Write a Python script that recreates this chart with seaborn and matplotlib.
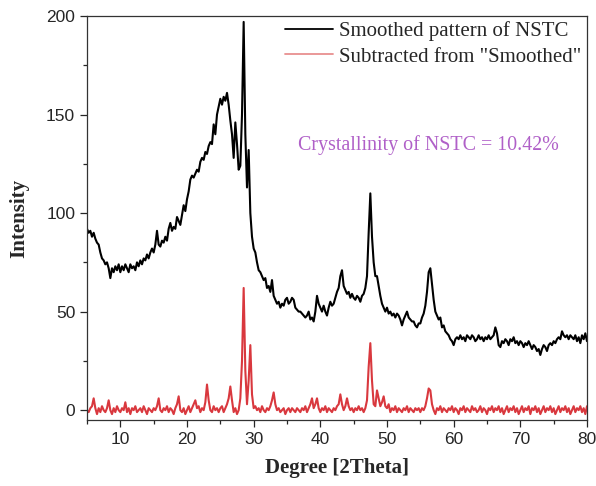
import numpy as np
import pandas as pd
import matplotlib
matplotlib.use("Agg")
import matplotlib.pyplot as plt
from matplotlib.ticker import MultipleLocator
from matplotlib.lines import Line2D
import seaborn as sns

# ---- data (2Theta step 0.25 deg, starting at 5 deg) ----
start_deg = 5.0
step_deg = 0.25

smoothed = [
    92, 90, 91, 88,   # 5
    90, 87, 85, 84,   # 6
    80, 77, 76, 74,   # 7
    75, 72, 67, 72,   # 8
    70, 73, 71, 74,   # 9
    70, 73, 71, 74,   # 10
    72, 70, 74, 72,   # 11
    73, 71, 75, 73,   # 12
    76, 74, 77, 76,   # 13
    79, 77, 80, 82,   # 14
    80, 84, 91, 84,   # 15
    83, 86, 85, 88,   # 16
    86, 92, 95, 91,   # 17
    93, 92, 98, 96,   # 18
    94, 99, 104, 101, # 19
    107, 111, 117, 119,  # 20
    118, 120, 122, 121,  # 21
    126, 128, 127, 131,  # 22
    130, 134, 136, 135,  # 23
    145, 140, 150, 154,  # 24
    158, 155, 159, 157,  # 25
    161, 155, 147, 140,  # 26
    128, 146, 135, 122,  # 27
    124, 150, 197, 140,  # 28
    113, 132, 100, 88,   # 29
    82, 80, 75, 71,   # 30
    70, 68, 66, 67,   # 31
    62, 63, 60, 66,   # 32
    58, 56, 54, 55,   # 33
    52, 54, 53, 56,   # 34
    57, 54, 55, 57,   # 35
    56, 52, 51, 50,   # 36
    50, 49, 48, 47,   # 37
    48, 50, 46, 47,   # 38
    45, 50, 58, 54,   # 39
    52, 50, 53, 50,   # 40
    48, 52, 55, 53,   # 41
    54, 57, 60, 62,   # 42
    68, 71, 63, 61,   # 43
    59, 60, 57, 59,   # 44
    57, 56, 58, 57,   # 45
    55, 58, 59, 62,   # 46
    68, 90, 110, 88,  # 47
    75, 68, 68, 63,   # 48
    58, 54, 52, 50,   # 49
    52, 49, 50, 48,   # 50
    49, 47, 49, 48,   # 51
    46, 43, 46, 48,   # 52
    50, 47, 46, 45,   # 53
    45, 43, 42, 44,   # 54
    44, 47, 49, 53,   # 55
    60, 70, 72, 64,   # 56
    56, 50, 48, 46,   # 57
    47, 42, 43, 40,   # 58
    39, 38, 36, 35,   # 59
    33, 36, 37, 36,   # 60
    38, 36, 37, 35,   # 61
    38, 37, 36, 38,   # 62
    37, 35, 36, 38,   # 63
    36, 37, 35, 37,   # 64
    36, 38, 36, 37,   # 65
    38, 42, 39, 33,   # 66
    32, 35, 34, 36,   # 67
    35, 33, 36, 35,   # 68
    37, 34, 35, 33,   # 69
    35, 34, 32, 34,   # 70
    33, 35, 33, 31,   # 71
    33, 32, 30, 31,   # 72
    28, 31, 33, 32,   # 73
    30, 33, 34, 33,   # 74
    35, 34, 36, 37,   # 75
    36, 40, 38, 37,   # 76
    38, 36, 38, 37,   # 77
    36, 38, 35, 37,   # 78
    34, 38, 36, 39,   # 79
    35,               # 80
]

subtracted = [
    0, -1, 1, 2,      # 5
    6, 1, -2, 1,      # 6
    -1, 2, 0, -1,     # 7
    1, 5, 0, -2,      # 8
    1, -1, 2, 0,      # 9
    -1, 1, 0, 4,      # 10
    -1, 1, -2, 1,     # 11
    0, 2, -1, 0,      # 12
    1, -1, 2, 0,      # 13
    -2, 1, 0, -1,     # 14
    1, 0, 2, 6,       # 15
    0, -1, 1, 0,      # 16
    2, -1, 1, 0,      # 17
    -2, 1, 3, 7,      # 18
    0, -1, 1, -2,     # 19
    0, 2, -1, 1,      # 20
    3, 5, 1, 2,       # 21
    -1, 1, 0, 4,      # 22
    13, 5, 0, -1,     # 23
    2, 0, 1, -1,      # 24
    1, 2, -1, 1,      # 25
    3, 6, 12, 5,      # 26
    -1, 1, -2, 0,     # 27
    6, 25, 62, 20,    # 28
    3, 15, 33, 8,     # 29
    1, 2, 0, 1,       # 30
    -1, 2, 0, -1,     # 31
    1, 0, 2, 5,       # 32
    9, 3, 0, 1,       # 33
    -1, 0, 1, -2,     # 34
    0, 1, -1, 1,      # 35
    0, -1, 1, 0,      # 36
    -1, 1, 0, 2,      # 37
    -1, 1, 3, 6,      # 38
    1, 3, 6, 1,       # 39
    -1, 1, 0, 2,      # 40
    -1, 1, 0, -1,     # 41
    1, 0, 2, 3,       # 42
    8, 3, 0, 2,       # 43
    6, 2, 0, 1,       # 44
    -1, 1, 0, 2,      # 45
    0, 1, -1, 1,      # 46
    5, 22, 34, 15,    # 47
    3, 2, 10, 6,      # 48
    2, 4, 7, 2,       # 49
    1, 3, -1, 1,      # 50
    0, 2, -1, 1,      # 51
    0, -1, 1, 0,      # 52
    2, -1, 1, 0,      # 53
    -1, 1, 0, 1,      # 54
    -1, 1, 0, 2,      # 55
    6, 11, 10, 3,     # 56
    0, -2, 1, 0,      # 57
    2, -1, 1, 0,      # 58
    -1, 1, 0, 2,      # 59
    -1, 1, 0, -2,     # 60
    1, 0, 2, -1,      # 61
    1, 0, -1, 2,      # 62
    0, 1, -1, 0,      # 63
    2, -1, 1, 0,      # 64
    -2, 1, 0, 2,      # 65
    -1, 1, 0, 2,      # 66
    -1, 1, -2, 0,     # 67
    2, -1, 1, 0,      # 68
    2, -1, 1, -2,     # 69
    0, 2, -1, 1,      # 70
    0, 2, -2, 1,      # 71
    0, 2, -1, 1,      # 72
    -2, 0, 2, -1,     # 73
    1, 0, 2, -1,      # 74
    1, -2, 0, 2,      # 75
    -1, 1, 0, 2,      # 76
    -1, 1, -2, 0,     # 77
    2, -1, 1, 0,      # 78
    2, -1, 1, -2,     # 79
    2,                # 80
]

series_names = ["Smoothed pattern of NSTC", 'Subtracted from "Smoothed"']
series_colors = ["#000000", "#d9383e"]
legend_colors = ["#000000", "#e89090"]
x_ticks = [10, 20, 30, 40, 50, 60, 70, 80]
y_ticks = [0, 50, 100, 150, 200]
annotation = "Crystallinity of NSTC = 10.42%"

deg1 = start_deg + step_deg * np.arange(len(smoothed))
deg2 = start_deg + step_deg * np.arange(len(subtracted))
df = pd.concat([
    pd.DataFrame({"deg": deg1, "I": smoothed, "s": series_names[0]}),
    pd.DataFrame({"deg": deg2, "I": subtracted, "s": series_names[1]}),
])

# ---- style ----
sns.set_style("ticks")
plt.rcParams["font.family"] = ["Liberation Sans", "DejaVu Sans"]

W, H = 596, 486
fig = plt.figure(figsize=(W / 100, H / 100), dpi=100)
ax = fig.add_axes([87 / W, 1 - 420 / H, 500 / W, 404 / H])

sns.lineplot(data=df, x="deg", y="I", hue="s", palette=series_colors,
             hue_order=series_names, ax=ax, linewidth=1.5, legend=False,
             estimator=None, sort=False)

ax.set_xlim(5, 80)
ax.set_ylim(-5, 200)
ax.set_xticks(x_ticks)
ax.set_yticks(y_ticks)
ax.xaxis.set_minor_locator(MultipleLocator(5))
ax.yaxis.set_minor_locator(MultipleLocator(25))
ax.tick_params(which="major", direction="out", length=5, width=0.9,
               labelsize=12.5, top=False, right=False)
ax.tick_params(which="minor", direction="out", length=3, width=0.9,
               top=False, right=False)
for sp in ax.spines.values():
    sp.set_visible(True)
    sp.set_linewidth(0.9)
    sp.set_color("#333333")

serif = ["Liberation Serif", "DejaVu Serif"]
ax.set_xlabel("Degree [2Theta]", fontsize=15, fontweight="bold", family=serif,
              labelpad=8)
ax.set_ylabel("Intensity", fontsize=15, fontweight="bold", family=serif,
              labelpad=12)

handles = [Line2D([], [], color=legend_colors[0], lw=1.3),
           Line2D([], [], color=legend_colors[1], lw=1.3)]
fig.legend(handles, series_names, loc="upper left",
           bbox_to_anchor=(285 / W, 1 - 21 / H), frameon=False,
           prop={"family": serif, "size": 15}, borderpad=0,
           borderaxespad=0, handlelength=2.3, handletextpad=0.3,
           labelspacing=0.3)

fig.text(298 / W, 1 - 145 / H, annotation, color="#b060c8", fontsize=14.4,
         family=serif, va="center", ha="left")

fig.savefig("out.png", dpi=100, facecolor="white")
